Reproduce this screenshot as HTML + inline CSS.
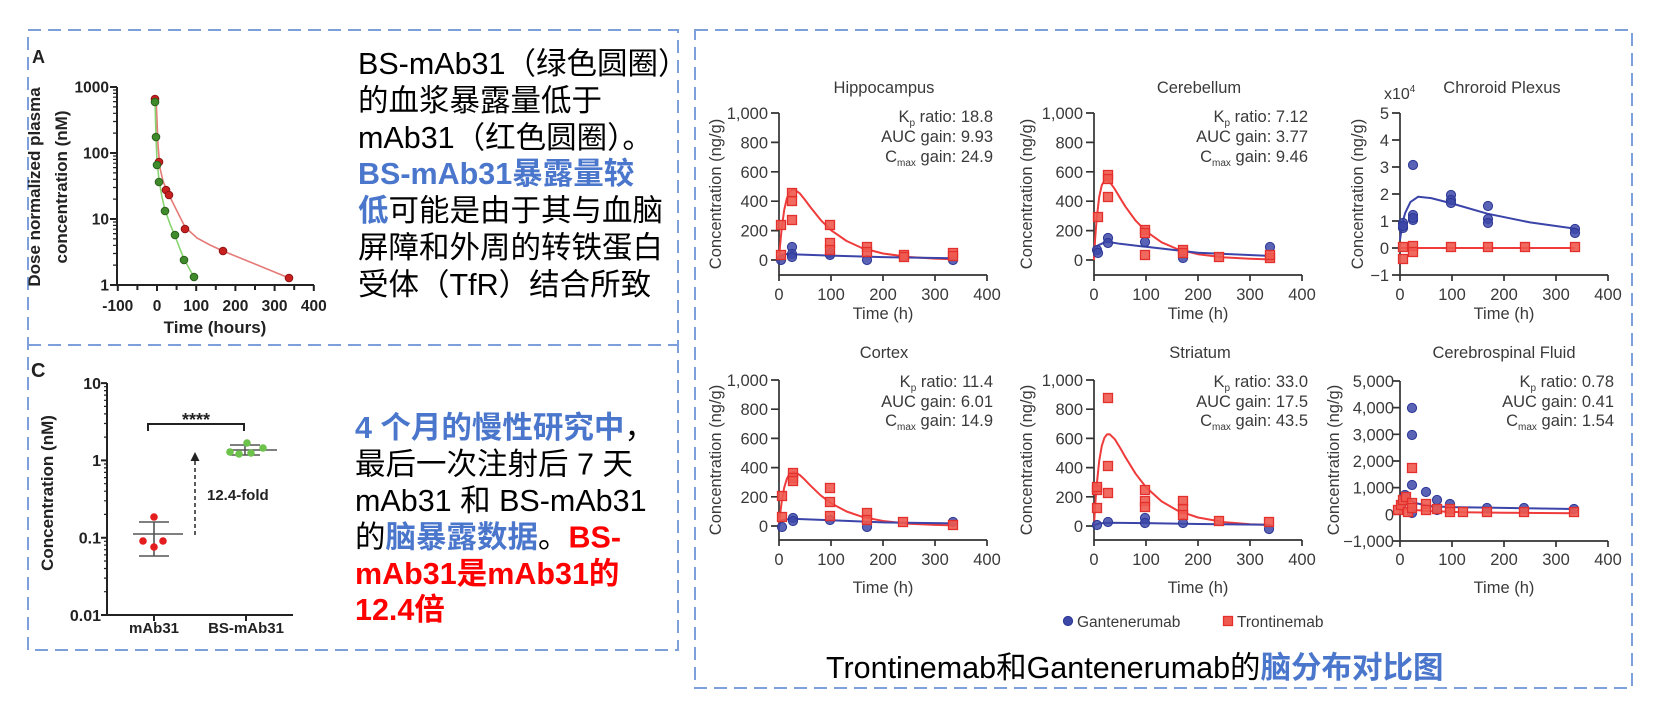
<!DOCTYPE html>
<html><head><meta charset="utf-8">
<style>
html,body{margin:0;padding:0;background:#fff;}
svg{display:block;}
text{font-family:"Liberation Sans","Noto Sans CJK SC",sans-serif;}
</style></head><body>
<svg width="1656" height="718" viewBox="0 0 1656 718" xmlns="http://www.w3.org/2000/svg">
<rect width="1656" height="718" fill="#fff"/>

<!-- dashed boxes -->
<g fill="none" stroke="#7d9fdc" stroke-width="2" stroke-dasharray="13 7">
<rect x="28" y="30" width="650" height="620"/>
<line x1="28" y1="345" x2="678" y2="345"/>
<rect x="695" y="30" width="937" height="658"/>
</g>

<!-- ================= Panel A ================= -->
<text x="32" y="63" font-size="18" font-weight="bold" fill="#222">A</text>
<g stroke="#222" stroke-width="2" fill="none">
<path d="M117,87 V285 H314"/>
<path d="M110,87H117 M110,153H117 M110,219H117 M110,285H117"/>
<path stroke-width="1.2" d="M113,265.1H117 M113,253.5H117 M113,245.3H117 M113,238.9H117 M113,233.6H117 M113,229.2H117 M113,225.4H117 M113,222H117
M113,199.1H117 M113,187.5H117 M113,179.3H117 M113,172.9H117 M113,167.6H117 M113,163.2H117 M113,159.4H117 M113,156H117
M113,133.1H117 M113,121.5H117 M113,113.3H117 M113,106.9H117 M113,101.6H117 M113,97.2H117 M113,93.4H117 M113,90H117"/>
<path d="M117.8,285V291 M137.4,285V290 M157,285V291 M176.6,285V290 M196.2,285V291 M215.8,285V290 M235.4,285V291 M255,285V290 M274.6,285V291 M294.2,285V290 M313.8,285V291"/>
</g>
<g font-size="15.5" font-weight="bold" fill="#222" text-anchor="end">
<text x="109" y="92.5">1000</text>
<text x="109" y="158.5">100</text>
<text x="109" y="224.5">10</text>
<text x="109" y="290.5">1</text>
</g>
<g font-size="15.5" font-weight="bold" fill="#222" text-anchor="middle">
<text x="117.8" y="311">-100</text>
<text x="157" y="311">0</text>
<text x="196.2" y="311">100</text>
<text x="235.4" y="311">200</text>
<text x="274.6" y="311">300</text>
<text x="313.8" y="311">400</text>
<text x="215" y="333" font-size="17">Time (hours)</text>
<text transform="translate(40,187) rotate(-90)" font-size="17">Dose normalized plasma</text>
<text transform="translate(67,187) rotate(-90)" font-size="17">concentration (nM)</text>
</g>
<polyline fill="none" stroke="#e57b78" stroke-width="1.6" points="156,97 157,120 158,145 160,168 163,181 167,191 175,207 185,227 197,238 210,245 223,251 250,262 289,278"/>
<polyline fill="none" stroke="#86d46f" stroke-width="1.6" points="155,100 156,137 157,160 159,180 162,197 165,210 170,224 175,236 180,249 184,259 190,270 194,277"/>
<g fill="#c8201f" stroke="#8e1414" stroke-width="1">
<circle cx="155" cy="99" r="3.8"/><circle cx="159" cy="162" r="3.8"/><circle cx="166" cy="190" r="3.8"/><circle cx="169" cy="195" r="3.8"/><circle cx="185" cy="229" r="3.8"/><circle cx="223" cy="251" r="3.8"/><circle cx="289" cy="278" r="3.8"/>
</g>
<g fill="#3f8a2a" stroke="#2a5e1c" stroke-width="1">
<circle cx="155" cy="102" r="3.8"/><circle cx="156" cy="137" r="3.8"/><circle cx="157" cy="165" r="3.8"/><circle cx="159" cy="182" r="3.8"/><circle cx="165" cy="211" r="3.8"/><circle cx="175" cy="235" r="3.8"/><circle cx="184" cy="260" r="3.8"/><circle cx="194" cy="277" r="3.8"/>
</g>

<!-- ================= Panel C ================= -->
<text x="31" y="377" font-size="20" font-weight="bold" fill="#222">C</text>
<g stroke="#222" stroke-width="2" fill="none">
<path d="M107,383 V615 H293"/>
<path d="M101,383.1H107 M101,460.4H107 M101,537.7H107 M101,615H107"/>
<path stroke-width="1.2" d="M104,591.7H107 M104,578.1H107 M104,568.5H107 M104,561H107 M104,554.9H107 M104,549.7H107 M104,545.2H107 M104,541.3H107
M104,514.4H107 M104,500.8H107 M104,491.2H107 M104,483.7H107 M104,477.6H107 M104,472.4H107 M104,467.9H107 M104,464H107
M104,437.1H107 M104,423.5H107 M104,413.9H107 M104,406.4H107 M104,400.3H107 M104,395.1H107 M104,390.6H107 M104,386.7H107"/>
<path d="M154,615V621 M246,615V621"/>
</g>
<g font-size="16" font-weight="bold" fill="#222" text-anchor="end">
<text x="101" y="389">10</text>
<text x="101" y="466">1</text>
<text x="101" y="543.5">0.1</text>
<text x="101" y="621">0.01</text>
</g>
<g font-size="15" font-weight="bold" fill="#222" text-anchor="middle">
<text x="154" y="633">mAb31</text>
<text x="246" y="633">BS-mAb31</text>
<text transform="translate(53,493) rotate(-90)" font-size="17">Concentration (nM)</text>
<text x="196" y="426" font-size="18">****</text>
</g>
<path d="M148,431 V424 H244 V431" fill="none" stroke="#222" stroke-width="2"/>
<g stroke="#555" stroke-width="1.6" fill="none">
<path d="M133,534H183 M139,522H169 M139,556H169 M154,522V556"/>
<path d="M227,450H277 M230,445H260 M230,455H260 M245,445V455"/>
</g>
<path d="M195,535 V459" stroke="#333" stroke-width="1.6" stroke-dasharray="4 3" fill="none"/>
<polygon points="195,452 190.5,461 199.5,461" fill="#222"/>
<text x="207" y="500" font-size="15" font-weight="bold" fill="#222">12.4-fold</text>
<g fill="#e41d1f">
<circle cx="143" cy="541" r="3.8"/><circle cx="154" cy="517" r="3.8"/><circle cx="154" cy="547" r="3.8"/><circle cx="163" cy="541" r="3.8"/>
</g>
<g fill="#6cc24a">
<circle cx="230" cy="452" r="3.8"/><circle cx="239" cy="454" r="3.8"/><circle cx="247" cy="443" r="3.8"/><circle cx="251" cy="453" r="3.8"/><circle cx="263" cy="448" r="3.8"/>
</g>

<!-- ================= Text block 1 ================= -->
<g font-size="30.5" fill="#000">
<text x="358" y="74">BS-mAb31（绿色圆圈）</text>
<text x="358" y="111">的血浆暴露量低于</text>
<text x="358" y="148">mAb31（红色圆圈）。</text>
<text x="358" y="184" fill="#4a76cc" font-weight="bold">BS-mAb31暴露量较</text>
<text x="358" y="221"><tspan fill="#4a76cc" font-weight="bold">低</tspan>可能是由于其与血脑</text>
<text x="358" y="258">屏障和外周的转铁蛋白</text>
<text x="358" y="295">受体（TfR）结合所致</text>
</g>

<!-- ================= Text block 2 ================= -->
<g font-size="30.5" fill="#000">
<text x="355" y="438"><tspan fill="#4a76cc" font-weight="bold">4 个月的慢性研究中</tspan>，</text>
<text x="355" y="474.5">最后一次注射后 7 天</text>
<text x="355" y="511">mAb31 和 BS-mAb31</text>
<text x="355" y="547.5">的<tspan fill="#4a76cc" font-weight="bold">脑暴露数据</tspan>。<tspan fill="#ff0000" font-weight="bold">BS-</tspan></text>
<text x="355" y="584" fill="#ff0000" font-weight="bold">mAb31是mAb31的</text>
<text x="355" y="620" fill="#ff0000" font-weight="bold">12.4倍</text>
</g>

<!-- ================= Right charts: axes ================= -->
<g stroke="#333" stroke-width="1.7" fill="none">
<path d="M779,113 V275 H987"/>
<path d="M771,113H779 M771,142.4H779 M771,171.8H779 M771,201.2H779 M771,230.6H779 M771,260H779 M779,275V281 M831,275V281 M883,275V281 M935,275V281 M987,275V281"/>
<path d="M1094,113 V275 H1302"/>
<path d="M1086,113H1094 M1086,142.4H1094 M1086,171.8H1094 M1086,201.2H1094 M1086,230.6H1094 M1086,260H1094 M1094,275V281 M1146,275V281 M1198,275V281 M1250,275V281 M1302,275V281"/>
<path d="M1400,113 V275 H1608"/>
<path d="M1392,113H1400 M1392,140H1400 M1392,167H1400 M1392,194H1400 M1392,221H1400 M1392,248H1400 M1392,275H1400 M1400,275V281 M1452,275V281 M1504,275V281 M1556,275V281 M1608,275V281"/>
<path d="M779,380 V540 H987"/>
<path d="M771,380H779 M771,409.2H779 M771,438.4H779 M771,467.6H779 M771,496.8H779 M771,526H779 M779,540V546 M831,540V546 M883,540V546 M935,540V546 M987,540V546"/>
<path d="M1094,380 V540 H1302"/>
<path d="M1086,380H1094 M1086,409.2H1094 M1086,438.4H1094 M1086,467.6H1094 M1086,496.8H1094 M1086,526H1094 M1094,540V546 M1146,540V546 M1198,540V546 M1250,540V546 M1302,540V546"/>
<path d="M1400,381 V541 H1608"/>
<path d="M1392,381H1400 M1392,407.6H1400 M1392,434.3H1400 M1392,461H1400 M1392,487.6H1400 M1392,514.3H1400 M1392,541H1400 M1400,541V547 M1452,541V547 M1504,541V547 M1556,541V547 M1608,541V547"/>
</g>

<!-- tick labels -->
<g font-size="16.5" fill="#3a3a3a" text-anchor="end">
<text x="768" y="119">1,000</text><text x="768" y="148.4">800</text><text x="768" y="177.8">600</text><text x="768" y="207.2">400</text><text x="768" y="236.6">200</text><text x="768" y="266">0</text>
<text x="1083" y="119">1,000</text><text x="1083" y="148.4">800</text><text x="1083" y="177.8">600</text><text x="1083" y="207.2">400</text><text x="1083" y="236.6">200</text><text x="1083" y="266">0</text>
<text x="1389" y="119">5</text><text x="1389" y="146">4</text><text x="1389" y="173">3</text><text x="1389" y="200">2</text><text x="1389" y="227">1</text><text x="1389" y="254">0</text><text x="1389" y="281">−1</text>
<text x="768" y="386">1,000</text><text x="768" y="415.2">800</text><text x="768" y="444.4">600</text><text x="768" y="473.6">400</text><text x="768" y="502.8">200</text><text x="768" y="532">0</text>
<text x="1083" y="386">1,000</text><text x="1083" y="415.2">800</text><text x="1083" y="444.4">600</text><text x="1083" y="473.6">400</text><text x="1083" y="502.8">200</text><text x="1083" y="532">0</text>
<text x="1394" y="387">5,000</text><text x="1394" y="413.6">4,000</text><text x="1394" y="440.3">3,000</text><text x="1394" y="467">2,000</text><text x="1394" y="493.6">1,000</text><text x="1394" y="520.3">0</text><text x="1394" y="547">−1,000</text>
</g>
<g font-size="16.5" fill="#3a3a3a" text-anchor="middle">
<text x="779" y="300">0</text><text x="831" y="300">100</text><text x="883" y="300">200</text><text x="935" y="300">300</text><text x="987" y="300">400</text>
<text x="1094" y="300">0</text><text x="1146" y="300">100</text><text x="1198" y="300">200</text><text x="1250" y="300">300</text><text x="1302" y="300">400</text>
<text x="1400" y="300">0</text><text x="1452" y="300">100</text><text x="1504" y="300">200</text><text x="1556" y="300">300</text><text x="1608" y="300">400</text>
<text x="779" y="565">0</text><text x="831" y="565">100</text><text x="883" y="565">200</text><text x="935" y="565">300</text><text x="987" y="565">400</text>
<text x="1094" y="565">0</text><text x="1146" y="565">100</text><text x="1198" y="565">200</text><text x="1250" y="565">300</text><text x="1302" y="565">400</text>
<text x="1400" y="565">0</text><text x="1452" y="565">100</text><text x="1504" y="565">200</text><text x="1556" y="565">300</text><text x="1608" y="565">400</text>
<text x="883" y="319">Time (h)</text><text x="1198" y="319">Time (h)</text><text x="1504" y="319">Time (h)</text>
<text x="883" y="593">Time (h)</text><text x="1198" y="593">Time (h)</text><text x="1504" y="593">Time (h)</text>
<text x="884" y="93">Hippocampus</text><text x="1199" y="93">Cerebellum</text><text x="1502" y="93">Chroroid Plexus</text>
<text x="884" y="358">Cortex</text><text x="1200" y="358">Striatum</text><text x="1504" y="358">Cerebrospinal Fluid</text>
<text transform="translate(721,194) rotate(-90)">Concentration (ng/g)</text>
<text transform="translate(1032,194) rotate(-90)">Concentration (ng/g)</text>
<text transform="translate(1363,194) rotate(-90)">Concentration (ng/g)</text>
<text transform="translate(721,460) rotate(-90)">Concentration (ng/g)</text>
<text transform="translate(1032,460) rotate(-90)">Concentration (ng/g)</text>
<text transform="translate(1339,460) rotate(-90)">Concentration (ng/g)</text>
</g>
<text x="1384" y="99" font-size="16" fill="#3a3a3a">x10<tspan font-size="10" dy="-7">4</tspan></text>

<!-- annotations -->
<g font-size="16.5" fill="#3a3a3a" text-anchor="end">
<text x="993" y="122">K<tspan font-size="10" dy="4">p</tspan><tspan dy="-4"> ratio: 18.8</tspan></text>
<text x="993" y="142">AUC gain: 9.93</text>
<text x="993" y="162">C<tspan font-size="10" dy="4">max</tspan><tspan dy="-4"> gain: 24.9</tspan></text>
<text x="1308" y="122">K<tspan font-size="10" dy="4">p</tspan><tspan dy="-4"> ratio: 7.12</tspan></text>
<text x="1308" y="142">AUC gain: 3.77</text>
<text x="1308" y="162">C<tspan font-size="10" dy="4">max</tspan><tspan dy="-4"> gain: 9.46</tspan></text>
<text x="993" y="387">K<tspan font-size="10" dy="4">p</tspan><tspan dy="-4"> ratio: 11.4</tspan></text>
<text x="993" y="407">AUC gain: 6.01</text>
<text x="993" y="426">C<tspan font-size="10" dy="4">max</tspan><tspan dy="-4"> gain: 14.9</tspan></text>
<text x="1308" y="387">K<tspan font-size="10" dy="4">p</tspan><tspan dy="-4"> ratio: 33.0</tspan></text>
<text x="1308" y="407">AUC gain: 17.5</text>
<text x="1308" y="426">C<tspan font-size="10" dy="4">max</tspan><tspan dy="-4"> gain: 43.5</tspan></text>
<text x="1614" y="387">K<tspan font-size="10" dy="4">p</tspan><tspan dy="-4"> ratio: 0.78</tspan></text>
<text x="1614" y="407">AUC gain: 0.41</text>
<text x="1614" y="426">C<tspan font-size="10" dy="4">max</tspan><tspan dy="-4"> gain: 1.54</tspan></text>
</g>

<!-- curves -->
<g fill="none" stroke="#ef3b3b" stroke-width="2" stroke-linejoin="round">
<polyline points="779,260 780,246.1 781.6,229.4 784.2,210 786.8,198.6 789.4,192.4 792,189.7 794.6,189.6 799.8,193.4 805,199.9 810.2,206.9 820.6,219.9 831,230.2 846.6,241 862.2,248.1 883,253.5 909,257 935,258.6 953.7,259.2"/>
<polyline points="1094,260 1095,241.1 1096.6,219.5 1099.2,196.8 1101.8,185.2 1104.4,180.5 1107,179.9 1109.6,181.8 1114.8,189.1 1120,197.8 1125.2,206.3 1135.6,220.6 1146,231.3 1161.6,242.3 1177.2,249 1198,254.2 1224,257.4 1250,258.8 1268.7,259.4"/>
<polyline points="779,526 780,515.4 781.6,502.5 784.2,487.7 786.8,478.9 789.4,474.2 792,472.2 794.6,472.1 799.8,475 805,479.9 810.2,485.3 820.6,495.3 831,503.2 846.6,511.5 862.2,516.8 883,521 909,523.7 935,524.9 953.7,525.4"/>
<polyline points="1094,526 1095,507.9 1096.6,486.1 1099.2,460.9 1101.8,445.8 1104.4,437.8 1107,434.4 1109.6,434.2 1114.8,439.2 1120,447.6 1125.2,456.8 1135.6,473.7 1146,487.2 1161.6,501.4 1177.2,510.4 1198,517.5 1224,522.1 1250,524.2 1268.7,524.9"/>
<polyline points="1400,248 1574.7,248"/>
<polyline points="1400,511.6 1402.6,509 1410.4,509.8 1431.2,511.1 1462.4,512.2 1504,512.7 1574.7,513.2"/>
</g>
<g fill="none" stroke="#3b44a8" stroke-width="2" stroke-linejoin="round">
<polyline points="779,258.5 781.6,254.9 786.8,254.1 794.6,254.4 831,255.6 883,257.1 953.7,258.2"/>
<polyline points="1094,251.2 1098.2,245.3 1106.5,241.6 1120,243.8 1146,246.8 1198,252.7 1268.7,255.9"/>
<polyline points="1400,239.9 1402.6,222.4 1405.2,212.9 1410.4,202.1 1418.2,196.7 1431.2,198.1 1452,203.5 1487.4,213.7 1530,222.4 1574.7,228.6"/>
<polyline points="779,526 781.6,520.2 791.5,518.7 831,520.2 883,522.4 953.7,523.4"/>
<polyline points="1094,525.3 1099.2,523.4 1109.6,522.8 1146,523.1 1198,524 1268.7,524.8"/>
<polyline points="1400,503.6 1402.6,495.6 1406.2,497 1415.6,503.1 1431.2,506.3 1452,507.1 1487.4,507.6 1524.8,508.2 1574.7,509"/>
</g>

<!-- blue circles -->
<g fill="#3d48a8" fill-opacity="0.85" stroke="#2c3795" stroke-width="1">
<circle cx="781" cy="260" r="4.6"/><circle cx="792" cy="247" r="4.6"/><circle cx="792" cy="254" r="4.6"/><circle cx="792" cy="257" r="4.6"/><circle cx="830" cy="253" r="4.6"/><circle cx="830" cy="255" r="4.6"/><circle cx="867" cy="260" r="4.6"/><circle cx="904" cy="257" r="4.6"/><circle cx="953" cy="260" r="4.6"/>
<circle cx="1097" cy="250" r="4.6"/><circle cx="1098" cy="253" r="4.6"/><circle cx="1108" cy="238" r="4.6"/><circle cx="1108" cy="243" r="4.6"/><circle cx="1145" cy="242" r="4.6"/><circle cx="1183" cy="258" r="4.6"/><circle cx="1270" cy="247" r="4.6"/>
<circle cx="1403" cy="223" r="4.6"/><circle cx="1403" cy="228" r="4.6"/><circle cx="1403" cy="226" r="4.6"/><circle cx="1413" cy="165" r="4.6"/><circle cx="1413" cy="215" r="4.6"/><circle cx="1413" cy="220" r="4.6"/><circle cx="1413" cy="218" r="4.6"/><circle cx="1451" cy="195" r="4.6"/><circle cx="1451" cy="200" r="4.6"/><circle cx="1451" cy="203" r="4.6"/><circle cx="1488" cy="206" r="4.6"/><circle cx="1488" cy="219" r="4.6"/><circle cx="1488" cy="223" r="4.6"/><circle cx="1575" cy="229" r="4.6"/><circle cx="1575" cy="233" r="4.6"/>
<circle cx="782" cy="527" r="4.6"/><circle cx="793" cy="518" r="4.6"/><circle cx="793" cy="521" r="4.6"/><circle cx="830" cy="520" r="4.6"/><circle cx="867" cy="527" r="4.6"/><circle cx="953" cy="522" r="4.6"/>
<circle cx="1097" cy="525" r="4.6"/><circle cx="1108" cy="522" r="4.6"/><circle cx="1145" cy="518" r="4.6"/><circle cx="1145" cy="523" r="4.6"/><circle cx="1183" cy="523" r="4.6"/><circle cx="1269" cy="529" r="4.6"/>
<circle cx="1402" cy="503" r="4.6"/><circle cx="1405" cy="495" r="4.6"/><circle cx="1412" cy="408" r="4.6"/><circle cx="1412" cy="435" r="4.6"/><circle cx="1412" cy="485" r="4.6"/><circle cx="1412" cy="513" r="4.6"/><circle cx="1426" cy="492" r="4.6"/><circle cx="1437" cy="500" r="4.6"/><circle cx="1437" cy="510" r="4.6"/><circle cx="1450" cy="504" r="4.6"/><circle cx="1487" cy="508" r="4.6"/><circle cx="1524" cy="508" r="4.6"/><circle cx="1574" cy="509" r="4.6"/>
</g>

<!-- red squares -->
<g fill="#ef5a4f" fill-opacity="0.9" stroke="#e3302c" stroke-width="1.3">
<rect x="776.5" y="220.5" width="9" height="9"/><rect x="776.5" y="250.5" width="9" height="9"/><rect x="787.5" y="188.5" width="9" height="9"/><rect x="787.5" y="196.5" width="9" height="9"/><rect x="787.5" y="215.5" width="9" height="9"/><rect x="825.5" y="220.5" width="9" height="9"/><rect x="825.5" y="238.5" width="9" height="9"/><rect x="825.5" y="245.5" width="9" height="9"/><rect x="862.5" y="242.5" width="9" height="9"/><rect x="862.5" y="247.5" width="9" height="9"/><rect x="899.5" y="250.5" width="9" height="9"/><rect x="899.5" y="252.5" width="9" height="9"/><rect x="948.5" y="248.5" width="9" height="9"/><rect x="948.5" y="251.5" width="9" height="9"/>
<rect x="1093.5" y="212.5" width="9" height="9"/><rect x="1103.5" y="170.5" width="9" height="9"/><rect x="1103.5" y="174.5" width="9" height="9"/><rect x="1103.5" y="192.5" width="9" height="9"/><rect x="1140.5" y="225.5" width="9" height="9"/><rect x="1140.5" y="228.5" width="9" height="9"/><rect x="1140.5" y="250.5" width="9" height="9"/><rect x="1178.5" y="245.5" width="9" height="9"/><rect x="1178.5" y="248.5" width="9" height="9"/><rect x="1214.5" y="252.5" width="9" height="9"/><rect x="1265.5" y="253.5" width="9" height="9"/><rect x="1265.5" y="250.5" width="9" height="9"/>
<rect x="1398.5" y="242.5" width="9" height="9"/><rect x="1398.5" y="254.5" width="9" height="9"/><rect x="1408.5" y="241.5" width="9" height="9"/><rect x="1408.5" y="247.5" width="9" height="9"/><rect x="1446.5" y="242.5" width="9" height="9"/><rect x="1483.5" y="242.5" width="9" height="9"/><rect x="1520.5" y="242.5" width="9" height="9"/><rect x="1570.5" y="242.5" width="9" height="9"/>
<rect x="777.5" y="491.5" width="9" height="9"/><rect x="777.5" y="512.5" width="9" height="9"/><rect x="788.5" y="468.5" width="9" height="9"/><rect x="788.5" y="473.5" width="9" height="9"/><rect x="788.5" y="476.5" width="9" height="9"/><rect x="825.5" y="483.5" width="9" height="9"/><rect x="825.5" y="497.5" width="9" height="9"/><rect x="825.5" y="511.5" width="9" height="9"/><rect x="862.5" y="508.5" width="9" height="9"/><rect x="862.5" y="515.5" width="9" height="9"/><rect x="898.5" y="517.5" width="9" height="9"/><rect x="948.5" y="520.5" width="9" height="9"/>
<rect x="1092.5" y="485.5" width="9" height="9"/><rect x="1092.5" y="482.5" width="9" height="9"/><rect x="1092.5" y="503.5" width="9" height="9"/><rect x="1103.5" y="393.5" width="9" height="9"/><rect x="1103.5" y="461.5" width="9" height="9"/><rect x="1103.5" y="488.5" width="9" height="9"/><rect x="1140.5" y="485.5" width="9" height="9"/><rect x="1140.5" y="496.5" width="9" height="9"/><rect x="1140.5" y="502.5" width="9" height="9"/><rect x="1178.5" y="496.5" width="9" height="9"/><rect x="1178.5" y="504.5" width="9" height="9"/><rect x="1178.5" y="510.5" width="9" height="9"/><rect x="1214.5" y="516.5" width="9" height="9"/><rect x="1264.5" y="517.5" width="9" height="9"/>
<rect x="1393.5" y="505.5" width="9" height="9"/><rect x="1396.5" y="500.5" width="9" height="9"/><rect x="1398.5" y="495.5" width="9" height="9"/><rect x="1401.5" y="492.5" width="9" height="9"/><rect x="1403.5" y="507.5" width="9" height="9"/><rect x="1407.5" y="463.5" width="9" height="9"/><rect x="1407.5" y="498.5" width="9" height="9"/><rect x="1407.5" y="503.5" width="9" height="9"/><rect x="1421.5" y="499.5" width="9" height="9"/><rect x="1421.5" y="505.5" width="9" height="9"/><rect x="1432.5" y="504.5" width="9" height="9"/><rect x="1445.5" y="504.5" width="9" height="9"/><rect x="1445.5" y="507.5" width="9" height="9"/><rect x="1458.5" y="507.5" width="9" height="9"/><rect x="1482.5" y="507.5" width="9" height="9"/><rect x="1519.5" y="507.5" width="9" height="9"/><rect x="1569.5" y="507.5" width="9" height="9"/>
</g>

<!-- legend -->
<circle cx="1068" cy="621" r="4.6" fill="#3d48a8" stroke="#2c3795" stroke-width="1"/>
<text x="1077" y="627" font-size="15.5" fill="#3a3a3a">Gantenerumab</text>
<rect x="1223.5" y="616.5" width="9" height="9" fill="#ef5a4f" stroke="#e3302c" stroke-width="1.3"/>
<text x="1237" y="627" font-size="15.5" fill="#3a3a3a">Trontinemab</text>

<!-- bottom title -->
<text x="826" y="678" font-size="30.5" fill="#000">Trontinemab和Gantenerumab的<tspan fill="#4a76cc" font-weight="bold">脑分布对比图</tspan></text>
</svg>
</body></html>
